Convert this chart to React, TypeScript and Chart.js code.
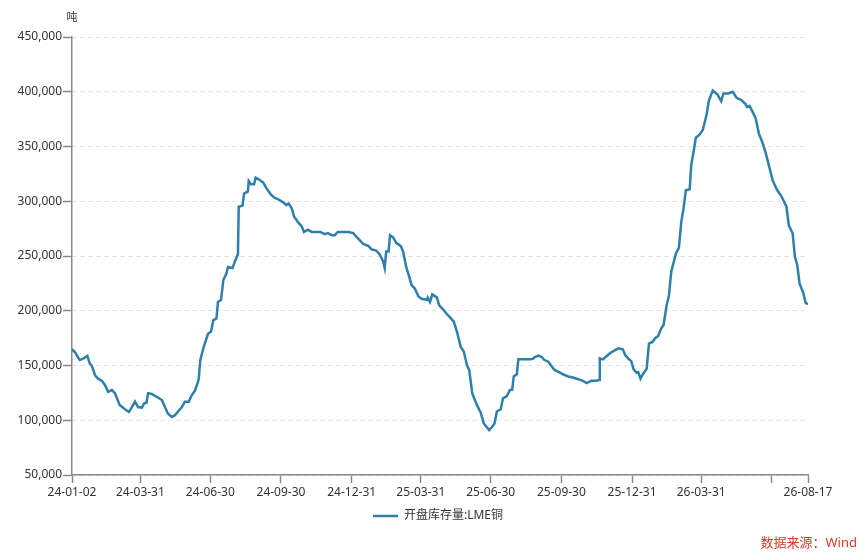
import { useEffect, useRef } from "react";
import { Chart, registerables } from "chart.js";

Chart.register(...registerables);

const seriesName = "开盘库存量:LME铜";
const unitLabel = "吨";
const sourceNote = "数据来源：Wind";

// LME copper on-warrant stock (tonnes)
const dates = [
  "2024-01-02", "2024-01-06", "2024-01-12", "2024-01-17", "2024-01-22", "2024-01-25", "2024-01-28",
  "2024-02-01", "2024-02-05", "2024-02-10", "2024-02-14", "2024-02-18", "2024-02-23", "2024-02-27",
  "2024-03-04", "2024-03-11", "2024-03-16", "2024-03-20", "2024-03-24", "2024-03-28",
  "2024-04-02", "2024-04-05", "2024-04-08", "2024-04-10", "2024-04-15", "2024-04-21", "2024-04-28",
  "2024-05-02", "2024-05-06", "2024-05-11", "2024-05-15", "2024-05-19", "2024-05-24", "2024-05-28",
  "2024-06-02", "2024-06-06", "2024-06-10", "2024-06-14", "2024-06-15", "2024-06-17", "2024-06-21", "2024-06-27",
  "2024-07-01", "2024-07-04", "2024-07-08", "2024-07-10", "2024-07-14", "2024-07-17", "2024-07-21", "2024-07-23", "2024-07-29",
  "2024-08-01", "2024-08-05", "2024-08-06", "2024-08-11", "2024-08-13", "2024-08-18", "2024-08-19", "2024-08-22", "2024-08-26", "2024-08-28",
  "2024-09-01", "2024-09-07", "2024-09-11", "2024-09-17", "2024-09-22", "2024-09-26",
  "2024-10-03", "2024-10-07", "2024-10-10", "2024-10-14", "2024-10-17", "2024-10-22", "2024-10-27", "2024-10-30",
  "2024-11-04", "2024-11-09", "2024-11-20", "2024-11-26", "2024-11-30",
  "2024-12-05", "2024-12-09", "2024-12-13", "2024-12-27",
  "2025-01-02", "2025-01-06", "2025-01-11", "2025-01-15", "2025-01-22", "2025-01-26",
  "2025-02-01", "2025-02-06", "2025-02-10", "2025-02-12", "2025-02-14", "2025-02-17", "2025-02-19", "2025-02-23", "2025-02-27",
  "2025-03-05", "2025-03-08", "2025-03-12", "2025-03-16", "2025-03-19", "2025-03-23", "2025-03-28",
  "2025-04-01", "2025-04-08", "2025-04-09", "2025-04-12", "2025-04-15", "2025-04-21", "2025-04-24", "2025-04-28",
  "2025-05-04", "2025-05-08", "2025-05-13", "2025-05-17", "2025-05-22", "2025-05-26", "2025-05-30",
  "2025-06-02", "2025-06-06", "2025-06-12", "2025-06-17", "2025-06-21", "2025-06-28",
  "2025-07-02", "2025-07-05", "2025-07-08", "2025-07-13", "2025-07-16", "2025-07-21", "2025-07-25", "2025-07-28", "2025-07-30",
  "2025-08-03", "2025-08-05", "2025-08-20", "2025-08-24", "2025-08-26", "2025-08-31",
  "2025-09-04", "2025-09-08", "2025-09-13", "2025-09-17", "2025-09-21", "2025-09-27",
  "2025-10-02", "2025-10-09", "2025-10-15", "2025-10-22", "2025-10-28",
  "2025-11-02", "2025-11-08", "2025-11-15", "2025-11-18", "2025-11-19", "2025-11-23", "2025-11-28",
  "2025-12-03", "2025-12-09", "2025-12-13", "2025-12-19", "2025-12-22", "2025-12-27", "2025-12-30",
  "2026-01-02", "2026-01-06", "2026-01-08", "2026-01-11", "2026-01-14", "2026-01-19", "2026-01-22", "2026-01-27", "2026-01-30",
  "2026-02-03", "2026-02-07", "2026-02-10", "2026-02-14", "2026-02-17", "2026-02-20", "2026-02-26",
  "2026-03-02", "2026-03-05", "2026-03-08", "2026-03-11", "2026-03-16", "2026-03-18", "2026-03-21", "2026-03-24", "2026-03-29",
  "2026-04-02", "2026-04-07", "2026-04-10", "2026-04-15", "2026-04-21", "2026-04-26", "2026-04-29",
  "2026-05-05", "2026-05-11", "2026-05-16", "2026-05-22", "2026-05-28", "2026-05-30",
  "2026-06-02", "2026-06-07", "2026-06-10", "2026-06-14", "2026-06-19", "2026-06-23", "2026-06-27",
  "2026-07-02", "2026-07-08", "2026-07-13", "2026-07-18", "2026-07-20", "2026-07-23", "2026-07-28", "2026-07-31",
  "2026-08-03", "2026-08-06", "2026-08-11", "2026-08-14", "2026-08-17",
];

const stock = [
  165000, 162000, 155000, 156500, 158700, 152000, 149500,
  141000, 138000, 136000, 132000, 126000, 127600, 124600,
  114000, 110000, 107500, 112000, 117000, 112000,
  111600, 115500, 116000, 124600, 124000, 121500, 118500,
  112000, 106000, 103000, 104500, 108000, 112000, 117000,
  117000, 123000, 127000, 135000, 138000, 155000, 166000, 179000,
  181000, 191500, 193000, 208000, 210000, 228000, 234000, 240000, 239000,
  245000, 251500, 295000, 296000, 307000, 309000, 318500, 315500, 315500, 321500,
  320000, 317000, 312000, 306000, 303000, 302000,
  299000, 296500, 298000, 293500, 286000, 281000, 277000, 272000,
  274000, 272000, 272000, 270000, 271000,
  269000, 269000, 272000, 272000,
  271000, 267600, 264000, 261000, 259000, 256000,
  255000, 251000, 245000, 239000, 254000, 254000, 269000, 267000, 262000,
  259000, 254000, 240000, 231000, 223500, 220500, 213000,
  211000, 210000, 212000, 208000, 215000, 212000, 205000, 202000,
  197000, 194000, 190000, 181000, 167000, 162600, 150500,
  146000, 124600, 114000, 107000, 97000, 91000,
  94000, 97000, 108000, 110000, 120000, 122000, 127600, 128000, 140000,
  142000, 155600, 155600, 156000, 157500, 159000,
  158000, 155000, 153500, 149500, 146000, 144000,
  142000, 140000, 139000, 137500, 136000,
  134000, 136000, 136000, 136800, 156500, 155600, 158700,
  161700, 164000, 165700, 164800, 159600, 155600, 154000,
  146500, 143400, 144000, 138000, 142000, 147000, 170000, 171700, 175000,
  177000, 184000, 187000, 205000, 214000, 235600, 252000,
  257600, 281000, 293500, 310000, 311000, 333000, 345000, 358000, 361000,
  365000, 379000, 392000, 401000, 397600, 391500, 398500,
  398500, 400000, 394500, 392500, 388500, 386000,
  387000, 380000, 375500, 362000, 353000, 344000, 333000,
  319000, 310000, 305000, 298000, 295000, 278000, 270700, 249000,
  241800, 225000, 216000, 207000, 206000,
];

const xTickDates = [
  "2024-01-02", "2024-03-31", "2024-06-30", "2024-09-30", "2024-12-31", "2025-03-31",
  "2025-06-30", "2025-09-30", "2025-12-31", "2026-03-31", "2026-06-30", "2026-08-17",
];
const xTickLabels = [
  "24-01-02", "24-03-31", "24-06-30", "24-09-30", "24-12-31", "25-03-31",
  "25-06-30", "25-09-30", "25-12-31", "26-03-31", "", "26-08-17",
];

const FONT = '"Noto Sans", "Noto Sans CJK SC", sans-serif';
const DAY = 86400000;
const t0 = Date.parse(dates[0] + "T00:00:00Z");
const dayOf = (d: string) => (Date.parse(d + "T00:00:00Z") - t0) / DAY;

// unit over the y axis and the source note in the corner
const notesPlugin = {
  id: "notes",
  afterLayout(chart: any) {
    // centre the legend under the plot area instead of the whole canvas
    const lg = chart.legend;
    if (lg) {
      const shift = (chart.chartArea.left + chart.chartArea.right) / 2 - (lg.left + lg.right) / 2 - 2;
      lg.left += shift;
      lg.right += shift;
    }
  },
  afterDraw(chart: Chart) {
    const { ctx, chartArea, width, height } = chart;
    ctx.save();
    ctx.fillStyle = "#333";
    ctx.font = `11px ${FONT}`;
    ctx.textAlign = "center";
    ctx.textBaseline = "middle";
    ctx.fillText(unitLabel, chartArea.left, chartArea.top - 19);
    ctx.fillStyle = "#d8372c";
    ctx.font = `13px ${FONT}`;
    ctx.textAlign = "right";
    ctx.fillText(sourceNote, width - 8, height - 10);
    ctx.restore();
  },
};

function createChart(canvasEl: HTMLCanvasElement): Chart {
  const ctx = canvasEl.getContext("2d") as CanvasRenderingContext2D;
  const points = dates.map((d, i) => ({ x: dayOf(d), y: stock[i] }));
  const tickDays = xTickDates.map(dayOf);

  return new Chart(ctx, {
    type: "line",
    data: {
      datasets: [
        {
          label: seriesName,
          data: points,
          borderColor: "#2f7fab",
          backgroundColor: "#2f7fab",
          borderWidth: 2.5,
          pointRadius: 0,
          tension: 0,
        },
      ],
    },
    options: {
      animation: false,
      responsive: true,
      maintainAspectRatio: false,
      layout: { padding: { left: 0, right: 57, top: 37, bottom: 21 } },
      plugins: {
        tooltip: { enabled: false },
        legend: {
          position: "bottom",
          labels: {
            color: "#333",
            font: { family: FONT, size: 12 },
            usePointStyle: true,
            pointStyle: "line",
            pointStyleWidth: 25,
            padding: 7,
          },
        },
      },
      scales: {
        x: {
          type: "linear",
          min: 0,
          max: tickDays[tickDays.length - 1],
          afterBuildTicks: (scale: any) => {
            scale.ticks = tickDays.map((v) => ({ value: v }));
          },
          afterFit: (scale: any) => {
            scale.height = 28;
          },
          ticks: {
            autoSkip: false,
            maxRotation: 0,
            padding: 2,
            color: "#333",
            font: { family: FONT, size: 12 },
            callback: (_v: any, i: number) => xTickLabels[i],
          },
          grid: {
            drawOnChartArea: false,
            drawTicks: true,
            tickLength: 8,
            tickColor: "#888",
            tickWidth: 1.5,
          },
          border: { display: true, color: "#888", width: 1.5 },
        },
        y: {
          min: 50000,
          max: 450000,
          afterFit: (scale: any) => {
            scale.width = 72;
          },
          ticks: {
            stepSize: 50000,
            padding: 1,
            color: "#333",
            font: { family: FONT, size: 12 },
            callback: (v: any) => Number(v).toLocaleString("en-US"),
          },
          grid: {
            color: "#e2e2e2",
            lineWidth: 1,
            tickLength: 9,
            tickColor: "#888",
            tickWidth: 1.5,
          },
          border: { display: true, color: "#888", width: 1.5, dash: [4, 4] },
        },
      },
    },
    plugins: [notesPlugin],
  });
}

export default function App() {
  const canvasRef = useRef<HTMLCanvasElement>(null);

  useEffect(() => {
    const chart = createChart(canvasRef.current!);
    return () => {
      chart.destroy();
    };
  }, []);

  return (
    <div style={{ position: "fixed", left: 0, top: 0, width: 865, height: 553, background: "#fff" }}>
      <canvas ref={canvasRef}></canvas>
    </div>
  );
}
